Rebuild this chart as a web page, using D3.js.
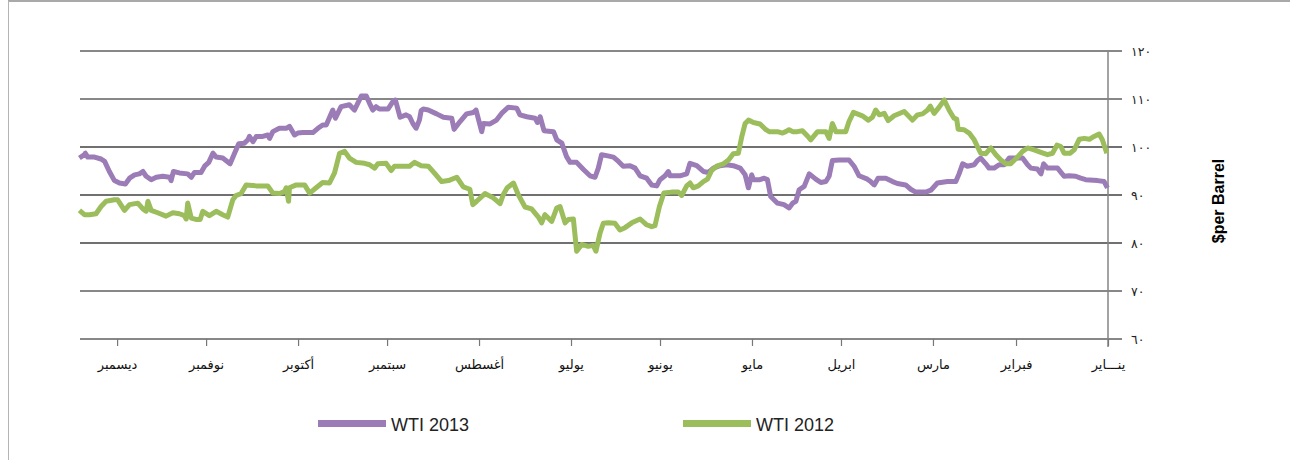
<!DOCTYPE html>
<meta charset="utf-8">
<style>
body { margin: 0; background: #fff; }
svg { display: block; }
.xaxis text { font-family: "DejaVu Sans", sans-serif; font-size: 13px; fill: #111; }
.yaxis text { font-family: "DejaVu Sans", sans-serif; font-size: 12.5px; fill: #222; }
.legend text { font-family: "Liberation Sans", Arial, sans-serif; font-size: 18px; fill: #222; }
</style>
<svg width="1290" height="460"></svg>
<script src="https://cdn.jsdelivr.net/npm/d3@7"></script>
<script>
// day of year (0 = 1 Jan) and WTI price, $/barrel
var days2013 = [0.2,1.3,3.5,7.5,9.2,10.9,13.1,14.8,17.0,20.4,21.7,22.6,23.8,26.0,27.1,28.8,31.6,33.3,35.0,36.7,38.4,40.1,41.2,42.9,44.0,45.1,47.4,49.0,50.2,51.3,54.1,57.5,59.7,61.4,64.8,66.5,68.2,71.0,72.6,74.9,77.5,78.8,80.0,81.1,83.9,85.6,87.3,90.6,92.9,94.0,95.1,96.8,98.5,100.7,102.4,104.1,105.2,106.3,107.5,109.2,111.4,113.7,114.8,115.9,
  117.3,119.5,120.1,121.2,122.3,124.0,126.3,128.5,130.8,133.0,134.7,136.4,138.6,140.9,142.0,144.3,147.6,148.2,149.3,151.0,152.1,153.8,155.5,157.7,159.4,161.1,163.4,165.0,166.7,169.0,170.7,171.8,172.9,174.6,176.8,179.1,181.3,182.5,184.1,185.8,186.9,190.1,191.4,192.3,193.1,195.9,198.2,199.3,202.1,204.4,206.1,208.3,210.5,211.1,213.0,213.9,216.2,218.4,220.4,221.2,224.0,226.3,229.1,230.8,
  231.5,232.1,233.2,234.3,235.4,236.6,238.6,240.2,241.1,242.7,245.6,246.7,247.8,248.9,250.0,251.7,254.0,255.7,258.5,260.4,261.3,263.5,264.7,266.3,268.0,271.4,273.1,274.2,275.9,277.0,279.3,281.5,282.6,283.2,284.9,287.1,288.2,289.4,289.9,291.1,293.0,294.4,295.9,298.4,300.6,301.7,303.1,304.5,305.7,307.9,309.0,310.2,313.0,315.0,315.8,316.3,318.6,320.8,322.5,324.2,325.3,326.5,328.1,329.8,331.2,333.2,334.9,336.6,338.2,339.4,341.6,343.9,344.7,345.0,346.7];
var wti2013 = [91.5,92.8,93.0,93.2,93.5,93.9,94.0,93.9,95.6,95.6,96.5,94.4,95.4,95.6,96.3,97.7,97.7,97.7,96.3,96.3,95.6,95.6,96.5,97.7,97.2,96.3,96.0,96.5,94.4,92.8,92.8,92.5,91.0,90.6,90.6,91.2,92.1,92.4,92.8,93.5,93.5,92.1,92.8,93.3,94.0,96.0,97.3,97.3,97.2,93.9,92.8,92.6,93.3,94.4,91.8,91.1,88.7,88.3,87.3,88.0,88.3,89.7,93.2,93.5,
  93.2,93.2,94.2,91.5,94.2,95.6,96.1,96.3,96.1,95.6,94.7,94.9,96.1,96.6,94.4,94.0,94.0,94.9,94.0,93.2,91.9,92.1,93.5,94.0,95.6,96.1,96.0,97.0,97.9,98.2,98.4,95.6,93.7,94.0,95.3,96.8,96.8,98.0,100.8,101.5,103.2,103.4,106.3,105.1,106.0,106.3,106.7,108.1,108.3,107.0,105.6,104.8,104.9,103.2,107.7,107.2,106.9,105.3,103.7,106.0,106.2,106.9,107.7,107.9,
  107.6,105.6,103.9,104.9,106.3,106.7,106.2,109.8,109.4,107.9,107.9,108.4,107.7,109.1,110.6,110.6,107.7,108.8,108.4,106.0,107.7,104.6,104.6,103.9,103.0,103.0,102.9,102.5,104.3,103.9,103.9,103.2,101.8,102.5,102.2,102.2,101.1,102.2,101.5,100.8,100.7,98.7,96.5,97.7,97.9,98.7,96.8,96.0,94.7,94.7,93.7,94.4,94.6,94.9,93.0,93.7,93.9,93.7,93.2,93.9,94.9,94.4,94.2,93.5,92.3,92.5,93.0,94.9,97.0,97.5,97.9,97.9,98.7,98.4,97.7];

var days2012 = [0.4,1.9,3.0,4.7,6.3,8.0,9.7,11.4,12.8,14.8,15.9,17.2,18.7,20.4,22.6,24.9,27.1,28.8,30.5,32.8,34.4,36.1,37.8,39.5,41.2,42.9,45.1,46.8,48.5,50.5,51.0,51.9,53.5,55.2,56.9,58.6,59.9,60.8,62.5,64.2,65.9,68.7,72.1,74.1,75.4,77.1,78.3,79.4,80.8,82.8,85.8,87.3,88.4,91.7,92.9,94.0,95.1,97.9,100.2,101.3,103.0,104.7,106.3,107.5,108.6,109.7,111.4,114.2,
  115.3,117.3,119.5,121.2,122.3,123.5,124.6,126.3,127.9,129.6,131.9,133.6,135.0,136.4,138.1,139.8,140.9,142.0,143.7,144.8,147.1,149.7,151.2,152.7,153.8,155.5,157.7,160.5,162.8,164.5,166.2,168.4,170.1,171.2,172.6,173.5,175.2,177.4,179.1,180.2,181.9,183.0,184.7,185.8,187.5,189.8,190.9,192.0,194.3,196.5,198.8,200.4,202.5,203.8,204.9,207.2,210.0,212.8,214.1,215.1,217.3,219.5,222.3,224.6,226.8,229.1,
  231.5,233.8,235.4,237.7,240.5,241.6,243.3,246.1,247.2,248.9,250.6,253.4,255.7,257.3,259.0,260.7,262.4,264.7,266.9,269.1,270.8,273.6,275.9,276.2,277.0,277.6,279.3,281.5,283.2,287.1,290.5,292.2,293.9,295.0,296.7,298.4,300.6,302.9,305.1,306.0,307.4,309.0,310.2,310.7,311.3,313.0,315.2,317.5,320.3,322.5,323.6,324.2,325.3,327.0,329.8,331.5,333.8,334.9,337.7,339.4,341.1,343.3,345.0,346.7];
var wti2012 = [98.7,101.5,102.7,102.2,101.6,101.8,101.6,99.4,98.7,98.7,100.1,100.4,98.7,98.4,98.9,99.4,99.8,99.1,97.9,96.5,96.5,97.3,98.4,99.8,98.6,98.7,101.5,102.9,103.6,103.7,105.8,106.0,107.6,109.8,108.3,107.0,108.5,107.7,106.9,106.7,105.6,107.4,106.5,105.5,107.0,106.7,107.7,106.2,105.6,106.5,107.2,105.3,103.2,103.2,104.9,101.8,103.2,103.2,101.5,102.3,103.4,103.2,103.2,103.6,103.2,102.9,103.2,103.2,
  103.6,104.8,105.1,105.6,104.9,102.0,98.7,98.6,97.3,96.5,96.0,95.1,93.3,92.8,91.9,91.5,92.5,91.9,89.9,90.6,90.6,90.4,87.6,83.6,83.4,83.8,85.0,84.2,83.2,82.7,84.1,84.2,84.1,82.1,78.3,79.5,79.3,79.7,78.3,85.0,84.9,84.2,87.6,87.3,84.5,85.9,84.2,85.4,87.1,87.5,90.1,92.5,91.5,90.1,88.2,89.4,90.3,88.7,88.0,91.2,91.7,93.7,93.0,92.8,94.4,96.0,
  96.1,96.8,96.0,96.0,96.0,95.1,96.6,96.5,95.6,96.3,96.6,96.8,97.7,99.1,98.7,94.6,92.5,92.6,91.5,90.4,92.1,92.1,91.5,88.7,91.5,90.7,90.3,90.4,91.9,91.9,92.1,90.3,89.9,89.0,85.4,85.9,86.6,85.7,86.6,84.9,84.9,85.2,88.3,85.0,85.7,86.1,86.3,85.6,86.3,86.8,88.7,86.6,87.1,88.3,88.0,86.8,89.0,89.0,88.7,87.6,86.1,85.9,85.9,86.8];

var monthDays = [0, 31, 59, 90, 120, 151, 181, 212, 243, 273, 304, 334];
var monthNames = ["ينـــاير", "فبراير", "مارس", "ابريل", "مايو", "يونيو", "يوليو", "أغسطس", "سبتمبر", "أكتوبر", "نوفمبر", "ديسمبر"];
var yTicks = [60, 70, 80, 90, 100, 110, 120];
var seriesNames = ["WTI 2013", "WTI 2012"];
var seriesColors = ["#9b7cb6", "#9bbd5b"];

var svg = d3.select("svg");

// frame of the original box
svg.append("line").attr("x1", 8).attr("x2", 1290).attr("y1", 1).attr("y2", 1)
    .attr("stroke", "#a9a9a9").attr("stroke-width", 2);
svg.append("line").attr("x1", 8.5).attr("x2", 8.5).attr("y1", 1).attr("y2", 460)
    .attr("stroke", "#b5b5b5").attr("stroke-width", 1);

// x runs right to left: January sits on the right
var x = d3.scaleLinear().domain([0, 346.5]).range([1108, 80]);
var y = d3.scaleLinear().domain([60, 120]).range([339, 51]);

// gridlines
svg.append("g").selectAll("line")
  .data(yTicks)
  .enter().append("line")
    .attr("x1", 80).attr("x2", 1122)
    .attr("y1", d => y(d)).attr("y2", d => y(d))
    .attr("stroke", d => (d >= 80 && d <= 100) ? "#707070" : "#111")
    .attr("stroke-width", d => (d >= 80 && d <= 100) ? 2.2 : 1.2);

// right value axis
var arabicDigits = n => String(n).replace(/\d/g, c => "٠١٢٣٤٥٦٧٨٩"[c]);
var yAxis = svg.append("g")
    .attr("class", "yaxis")
    .attr("transform", "translate(1108,0)")
    .call(d3.axisRight(y).tickValues(yTicks).tickSize(0).tickPadding(23).tickFormat(arabicDigits));
yAxis.select(".domain").remove();

svg.append("line")
    .attr("x1", 1108).attr("x2", 1108)
    .attr("y1", y(120)).attr("y2", y(60) + 8)
    .attr("stroke", "#858585").attr("stroke-width", 1.5);

// month axis
var xAxis = svg.append("g")
    .attr("class", "xaxis")
    .attr("transform", "translate(0," + y(60) + ")")
    .call(d3.axisBottom(x).tickValues(monthDays).tickSize(7).tickPadding(14)
      .tickFormat((d, i) => monthNames[i]));
xAxis.select(".domain").remove();
xAxis.selectAll(".tick line").attr("stroke", "#777").attr("stroke-width", 1.2);

// series
var line = d3.line().x(d => x(d[0])).y(d => y(d[1]));
var series = [d3.zip(days2013, wti2013), d3.zip(days2012, wti2012)];

svg.append("g").selectAll("path")
  .data(series)
  .enter().append("path")
    .attr("d", line)
    .attr("fill", "none")
    .attr("stroke", (d, i) => seriesColors[i])
    .attr("stroke-width", 5)
    .attr("stroke-linejoin", "round");

// axis title
svg.append("text")
    .attr("transform", "translate(1224,201) rotate(-90)")
    .attr("text-anchor", "middle")
    .style("font-family", "'Liberation Sans', Arial, sans-serif")
    .style("font-weight", "bold")
    .style("font-size", "16px")
    .text("$per Barrel");

// legend
var legendX = [318, 683];
var legend = svg.append("g").attr("class", "legend")
  .selectAll("g")
  .data(seriesNames)
  .enter().append("g")
    .attr("transform", (d, i) => "translate(" + legendX[i] + ",420)");
legend.append("rect")
    .attr("width", 68).attr("height", 7)
    .attr("fill", (d, i) => seriesColors[i]);
legend.append("text")
    .attr("x", 73).attr("y", 11)
    .text(d => d);
</script>
